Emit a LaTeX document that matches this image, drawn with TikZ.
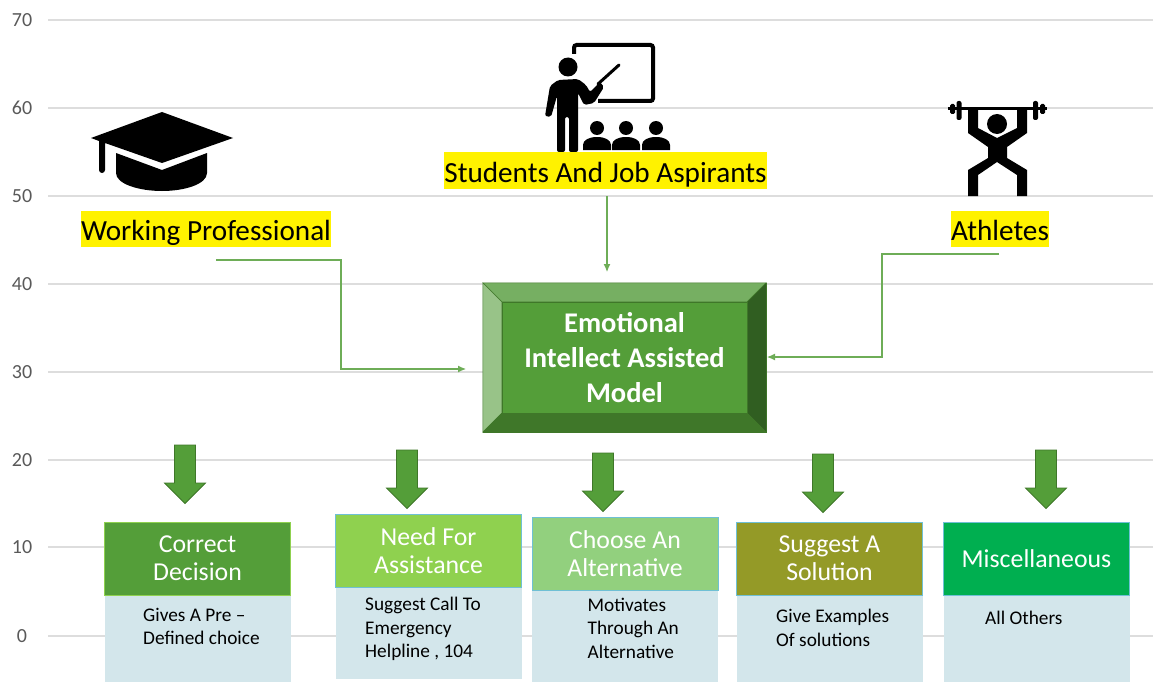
\documentclass[tikz,border=0pt]{standalone}
\usepackage{fontspec}
\setmainfont{Carlito}
\usetikzlibrary{arrows.meta}

\definecolor{gridgray}{HTML}{DDDDDD}
\definecolor{ticktext}{HTML}{595959}
\definecolor{leaf}{HTML}{549E39}
\definecolor{leafdark}{HTML}{3F7729}
\definecolor{leaftop}{HTML}{76AF62}
\definecolor{leafleft}{HTML}{98C388}
\definecolor{leafright}{HTML}{305E21}
\definecolor{lime}{HTML}{8FD14F}
\definecolor{mint}{HTML}{92D07E}
\definecolor{olive}{HTML}{949A27}
\definecolor{emerald}{HTML}{00AF50}
\definecolor{bodyblue}{HTML}{D3E6EB}
\definecolor{edgeblue}{HTML}{6FC0D5}

\tikzset{
    ticklabel/.style={text=ticktext, font=\fontsize{20}{24}\selectfont, inner sep=0pt},
    marker/.style={fill=yellow, text=black, font=\fontsize{29.2}{34}\selectfont, inner sep=0pt, text height=30pt, text depth=6.5pt},
    feed/.style={draw=leaf!85, line width=1.1pt, -{Latex[length=8pt,width=7pt]}},
    headbox/.style={minimum width=186pt, minimum height=73pt, inner sep=0pt, text=white, align=center, line width=0.8pt, font=\fontsize{25.8}{28}\selectfont},
    bodybox/.style={fill=bodyblue, minimum width=186pt, inner sep=0pt},
    bodytext/.style={anchor=west, align=left, inner sep=0pt, text=black, font=\fontsize{19.3}{23.5}\selectfont},
    bigarrow/.style={fill=leaf, draw=leafdark, line width=0.8pt}
}

\begin{document}
\begin{tikzpicture}[x=1pt, y=-1pt]

    \useasboundingbox (0,0) rectangle (1153,682);

    % grid
    \foreach \v/\yy in {70/20, 60/108, 50/196, 40/284, 30/372, 20/460, 10/547, 0/636} {
        \draw[gridgray, line width=1.3pt] (48,\yy) -- (1153,\yy);
        \node[ticklabel] (tick\v) at (22,\yy) {\v};
    }

    % cap
    \fill (162,112) -- (233,138) -- (162,163) -- (105,143) -- (105,170) arc[start angle=0, end angle=180, radius=3] -- (99,141) -- (91,138) -- cycle;
    \fill (116,153) -- (162,170) -- (207,153) -- (207,173) .. controls (207,184) and (185,191) .. (162,191) .. controls (139,191) and (116,184) .. (116,173) -- cycle;

    % teacher
    \draw[line width=4pt, rounded corners=2.5pt] (574,54) -- (574,45) -- (653,45) -- (653,101) -- (598,101);
    \fill (568,67) circle[radius=9.5];
    \fill[rounded corners=2pt] (545,116) -- (550,86) -- (558,80) -- (578,79) -- (586,85) -- (590,92) -- (600,82) -- (604,87) -- (594,103) -- (584,105) -- (578,93) -- (578,152) -- (569,152) -- (569,117) -- (565,117) -- (565,152) -- (557,152) -- (557,96) -- (551,117) -- cycle;
    \draw[line width=3pt, line cap=round] (598,84) -- (619,65);
    \foreach \px in {597,626,656} {
        \fill (\px,128) circle[radius=7];
        \fill (\px-14,150) -- (\px-14,145) .. controls (\px-14,140) and (\px-8,137) .. (\px,137) .. controls (\px+8,137) and (\px+14,140) .. (\px+14,145) -- (\px+14,150) -- cycle;
    }

    % athlete
    \fill (948,107.5) rectangle (1047,110.5);
    \fill[rounded corners=2pt] (956.5,101) rectangle (961.5,120);
    \fill[rounded corners=2pt] (1033,101) rectangle (1038,120);
    \fill[rounded corners=1.5pt] (950,104) rectangle (955,114);
    \fill[rounded corners=1.5pt] (1040,104) rectangle (1045,114);
    \fill (997,124) circle[radius=10];
    \fill (968,109) -- (968,133) -- (988,147) -- (988,158) -- (968,170) -- (968,196) -- (978,196) -- (978,175) -- (997,162) -- (1017,175) -- (1017,196) -- (1027,196) -- (1027,170) -- (1007,158) -- (1007,147) -- (1027,133) -- (1027,109) -- (1017,109) -- (1017,128) -- (997,138) -- (978,128) -- (978,109) -- cycle;

    % labels on top
    \node[marker] (working) at (206,229) {Working Professional};
    \node[marker] (students) at (605.5,170.5) {Students And Job Aspirants};
    \node[marker] (athletes) at (1000,229) {Athletes};

    % centre block
    \node[draw=leafdark, minimum width=283pt, minimum height=149pt, inner sep=0pt] (model) at (624.5,357.5) {};
    \node[minimum width=245pt, minimum height=111pt, inner sep=0pt] (modelcore) at (624.5,357.5) {};
    \filldraw[fill=leaftop, draw=leafdark] (model.north west) -- (model.north east) -- (modelcore.north east) -- (modelcore.north west) -- cycle;
    \filldraw[fill=leafleft, draw=leafdark] (model.north west) -- (modelcore.north west) -- (modelcore.south west) -- (model.south west) -- cycle;
    \filldraw[fill=leafright, draw=leafdark] (model.north east) -- (modelcore.north east) -- (modelcore.south east) -- (model.south east) -- cycle;
    \filldraw[fill=leafdark, draw=leafdark] (model.south west) -- (modelcore.south west) -- (modelcore.south east) -- (model.south east) -- cycle;
    \node[fill=leaf, draw=leafdark, minimum width=245pt, minimum height=111pt, inner sep=0pt, text=white, align=center, font=\bfseries\fontsize{28.5}{35}\selectfont] (modeltext) at (624.5,357.5) {Emotional\\Intellect Assisted\\Model};

    % connectors
    \coordinate (workingout) at (216,260);
    \coordinate (workingin) at (466,369);
    \coordinate (studentsout) at (607,196);
    \coordinate (studentsin) at (607,272);
    \coordinate (athletesout) at (999,254);
    \coordinate (athletesin) at (767,357);
    \draw[feed] (workingout) -| (341,369) -- (workingin);
    \draw[feed] (studentsout) -- (studentsin);
    \draw[feed] (athletesout) -| (882,357) -- (athletesin);

    % block arrows
    \foreach \ax/\at in {185/445, 407/450, 603/453, 823/454, 1046/450} {
        \draw[bigarrow] (\ax-10.5,\at) -- (\ax+10.5,\at) -- (\ax+10.5,\at+38) -- (\ax+20.5,\at+38) -- (\ax,\at+58.5) -- (\ax-20.5,\at+38) -- (\ax-10.5,\at+38) -- cycle;
    }

    % bottom columns
    \node[bodybox, minimum height=87pt] (correctbody) at (197.5,638.5) {};
    \node[headbox, fill=leaf, draw=lime] (correct) at (197.5,558.5) {Correct\\Decision};
    \node[bodybox, minimum height=92pt] (needbody) at (428.5,633) {};
    \node[headbox, fill=lime, draw=edgeblue] (need) at (428.5,551) {Need For\\Assistance};
    \node[bodybox, minimum height=91pt] (choosebody) at (625,636.5) {};
    \node[headbox, fill=mint, draw=edgeblue] (choose) at (625,554) {Choose An\\Alternative};
    \node[bodybox, minimum height=87pt] (suggestbody) at (829.5,638.5) {};
    \node[headbox, fill=olive, draw=edgeblue] (suggest) at (829.5,558.5) {Suggest A\\Solution};
    \node[bodybox, minimum height=87pt] (miscbody) at (1036.5,638.5) {};
    \node[headbox, fill=emerald, draw=edgeblue] (misc) at (1036.5,558.5) {Miscellaneous};

    \node[bodytext] (correcttext) at (143,626.5) {Gives A Pre --\\Defined choice};
    \node[bodytext] (needtext) at (365,629) {Suggest Call To\\Emergency\\Helpline , 104};
    \node[bodytext] (choosetext) at (587.5,628) {Motivates\\Through An\\Alternative};
    \node[bodytext] (suggesttext) at (776,628) {Give Examples\\Of solutions};
    \node[bodytext] (misctext) at (985,618) {All Others};

\end{tikzpicture}
\end{document}
